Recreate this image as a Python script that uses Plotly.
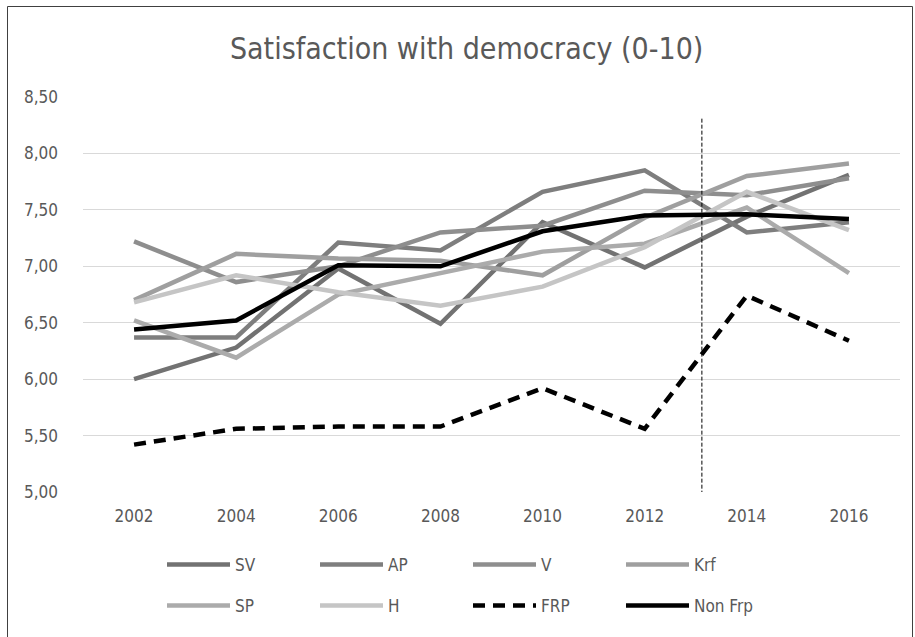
import plotly.graph_objects as go

# Survey years and mean satisfaction with democracy (0-10) by party voters
years = [2002, 2004, 2006, 2008, 2010, 2012, 2014, 2016]
sv = [6.00, 6.28, 6.98, 6.49, 7.39, 6.99, 7.44, 7.81]
ap = [6.37, 6.37, 7.21, 7.14, 7.66, 7.85, 7.30, 7.39]
v = [7.22, 6.86, 7.00, 7.30, 7.36, 7.67, 7.63, 7.78]
krf = [6.70, 7.11, 7.07, 7.05, 6.92, 7.43, 7.80, 7.91]
sp = [6.52, 6.19, 6.75, 6.94, 7.13, 7.20, 7.52, 6.94]
h = [6.68, 6.92, 6.77, 6.65, 6.82, 7.17, 7.66, 7.32]
frp = [5.42, 5.56, 5.58, 5.58, 5.92, 5.56, 6.74, 6.34]
non_frp = [6.44, 6.52, 7.01, 7.00, 7.31, 7.45, 7.46, 7.42]

y_ticks = [5.0, 5.5, 6.0, 6.5, 7.0, 7.5, 8.0, 8.5]
y_tick_labels = ["5,00", "5,50", "6,00", "6,50", "7,00", "7,50", "8,00", "8,50"]

# Election of autumn 2013
marker_year = 2013.12

FONT = "DejaVu Sans Condensed, Liberation Sans Narrow, Roboto Condensed, sans-serif"
TEXT = "#595959"

W, H = 915, 637
L, R, T, B = 83, 15, 97, 145
pw, ph = W - L - R, H - T - B


def px_x(x):
    return (x - L) / pw


def px_y(y):
    return (H - B - y) / ph


series = [
    ("SV", sv, "#727272", "solid", "legend"),
    ("AP", ap, "#7e7e7e", "solid", "legend"),
    ("V", v, "#8e8e8e", "solid", "legend"),
    ("Krf", krf, "#9f9f9f", "solid", "legend"),
    ("SP", sp, "#ababab", "solid", "legend2"),
    ("H", h, "#c5c5c5", "solid", "legend2"),
    ("FRP", frp, "#000000", "12px,8px", "legend2"),
    ("Non Frp", non_frp, "#000000", "solid", "legend2"),
]

fig = go.Figure()
for name, vals, color, dash, leg in series:
    fig.add_trace(go.Scatter(
        x=years, y=vals, name=name, mode="lines",
        line=dict(color=color, width=4.5, dash=dash),
        legend=leg,
    ))

legend_common = dict(
    orientation="h", xanchor="left", yanchor="middle",
    entrywidth=75, entrywidthmode="pixels", itemwidth=63,
    font=dict(family=FONT, size=17, color=TEXT),
    bgcolor="rgba(0,0,0,0)", tracegroupgap=0, itemclick=False,
)

fig.update_layout(
    width=W, height=H,
    margin=dict(l=L, r=R, t=T, b=B),
    paper_bgcolor="white", plot_bgcolor="white",
    title=dict(
        text="Satisfaction with democracy (0-10)",
        x=0.51, xanchor="center", y=1 - 48 / H, yanchor="middle",
        font=dict(family=FONT, size=30, color=TEXT),
    ),
    legend=dict(x=px_x(162), y=px_y(565), **legend_common),
    legend2=dict(x=px_x(162), y=px_y(606), **legend_common),
    xaxis=dict(
        range=[2001, 2017], tickvals=years, showgrid=False, zeroline=False,
        showline=False, ticks="", ticklabelstandoff=12,
        tickfont=dict(family=FONT, size=17, color=TEXT),
    ),
    yaxis=dict(
        range=[5.0, 8.5], tickvals=y_ticks, ticktext=y_tick_labels,
        showgrid=True, gridcolor="#d9d9d9", gridwidth=1, zeroline=False,
        showline=False, ticks="", ticklabelstandoff=24,
        tickfont=dict(family=FONT, size=17, color=TEXT),
    ),
    showlegend=True,
)

# Vertical marker at the change of government
fig.add_shape(
    type="line", xref="x", yref="y",
    x0=marker_year, x1=marker_year, y0=4.87, y1=8.31,
    line=dict(color="black", width=1, dash="4px,2px"),
)

# Chart frame
fig.add_shape(
    type="rect", xref="paper", yref="paper",
    x0=px_x(7.5), x1=px_x(912.5), y0=px_y(645), y1=px_y(6.5),
    line=dict(color="#404040", width=1), fillcolor="rgba(0,0,0,0)", layer="below",
)

fig.write_html("out.html")
